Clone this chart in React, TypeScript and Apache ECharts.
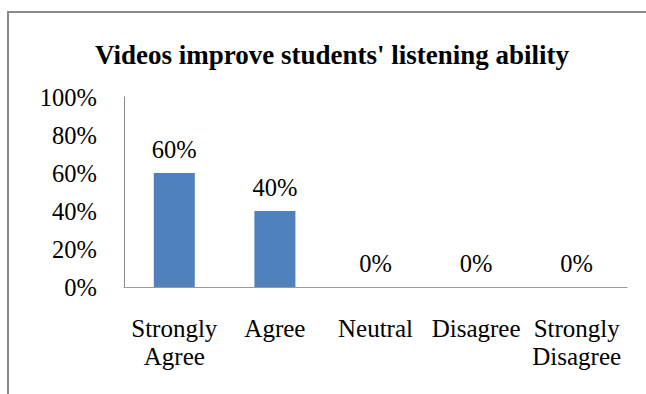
import React, { useEffect, useRef } from "react";
import * as echarts from "echarts";

const categories = ["Strongly\nAgree", "Agree", "Neutral", "Disagree", "Strongly\nDisagree"];
const values = [60, 40, 0, 0, 0];
const titleText = "Videos improve students' listening ability";

export default function App() {
  const ref = useRef<HTMLDivElement>(null);
  useEffect(() => {
    if (!ref.current) return;
    const chart = echarts.init(ref.current, null, { renderer: "svg" });
    const font = "'Liberation Serif', 'Times New Roman', serif";
    const fs = 25;
    chart.setOption({
      animation: false,
      backgroundColor: "#ffffff",
      textStyle: { fontFamily: font },
      graphic: [
        {
          type: "rect",
          shape: { x: 8, y: 12, width: 700, height: 500 },
          style: { fill: "none", stroke: "#8a8a8a", lineWidth: 2 },
          silent: true,
        },
      ],
      title: {
        text: titleText,
        left: 90,
        top: 36,
        textStyle: { fontFamily: font, fontSize: 27, fontWeight: "bold", color: "#000" },
      },
      grid: { left: 124, right: 19, top: 97, bottom: 107, containLabel: false },
      xAxis: {
        type: "category",
        data: categories,
        axisLine: { lineStyle: { color: "#9a9a9a", width: 1 } },
        axisTick: { show: false },
        axisLabel: { fontFamily: font, fontSize: fs, color: "#000", margin: 27, lineHeight: 28, interval: 0 },
      },
      yAxis: {
        type: "value",
        min: 0,
        max: 100,
        interval: 20,
        splitLine: { show: false },
        axisLine: { show: true, lineStyle: { color: "#8a8a8a", width: 1 } },
        axisTick: { show: false },
        axisLabel: { fontFamily: font, fontSize: 24.5, color: "#000", margin: 27, formatter: "{value}%" },
      },
      series: [
        {
          type: "bar",
          data: values,
          barWidth: 41,
          itemStyle: { color: "#4f81bd" },
          label: {
            show: true,
            position: "top",
            distance: 11,
            formatter: "{c}%",
            fontFamily: font,
            fontSize: 24.5,
            color: "#000",
          },
        },
      ],
    });
    return () => chart.dispose();
  }, []);
  return <div ref={ref} style={{ width: 646, height: 394, position: "absolute", left: 0, top: 0 }} />;
}
